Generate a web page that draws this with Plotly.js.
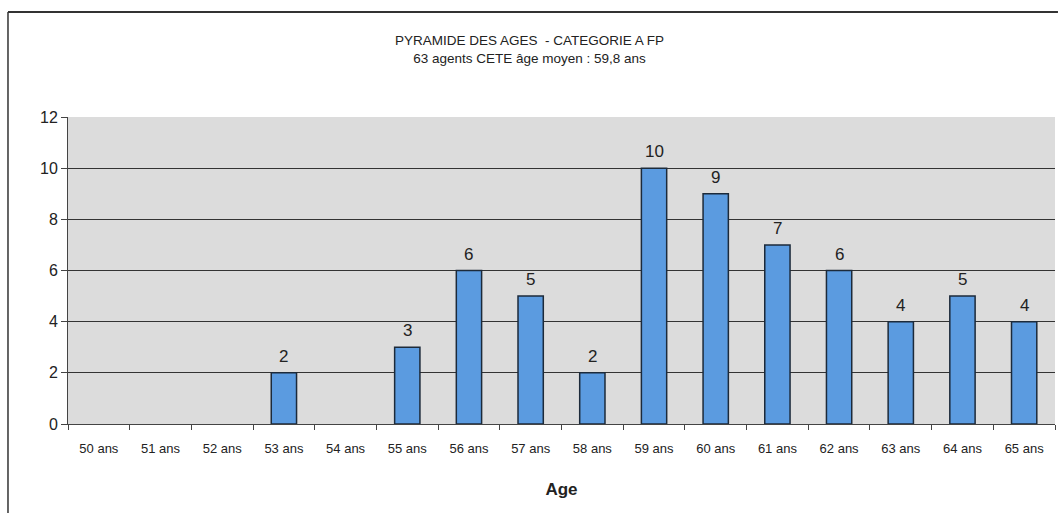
<!DOCTYPE html>
<html><head><meta charset="utf-8">
<script src="https://cdn.plot.ly/plotly-3.0.1.min.js"></script>
<style>html,body{margin:0;padding:0;background:#fff;}#chart{width:1059px;height:513px;}</style>
</head><body><div id="chart"></div>
<script>
const categories = ["50 ans","51 ans","52 ans","53 ans","54 ans","55 ans","56 ans","57 ans","58 ans","59 ans","60 ans","61 ans","62 ans","63 ans","64 ans","65 ans"];
const agents = [0,0,0,2,0,3,6,5,2,10,9,7,6,4,5,4];
const yTicks = [0,2,4,6,8,10,12];
const titleLine1 = "PYRAMIDE DES AGES  - CATEGORIE A FP";
const titleLine2 = "63 agents CETE âge moyen : 59,8 ans";

const trace = {
  type: 'bar', x: categories, y: agents.map(v => v > 0 ? v : null),
  marker: {color: '#5b9be0', line: {color: '#1c2a3a', width: 1.5}},
  width: 0.41, hoverinfo: 'x+y'
};
const labels = categories.map((c, i) => agents[i] > 0 ? {
  x: c, y: agents[i], xref: 'x', yref: 'y', text: String(agents[i]), showarrow: false,
  yanchor: 'bottom', yshift: 5,
  font: {family: 'Liberation Sans, Arial, sans-serif', size: 17, color: '#222'}
} : null).filter(a => a);

const layout = {
  width: 1059, height: 513,
  margin: {l: 68, r: 4, t: 117, b: 89},
  paper_bgcolor: '#ffffff', plot_bgcolor: '#dcdcdc',
  showlegend: false,
  title: {text: titleLine1 + '<br>' + titleLine2, x: 0.5, xanchor: 'center', y: 0.912, yanchor: 'top',
          font: {family: 'Liberation Sans, Arial, sans-serif', size: 13.5, color: '#222'}},
  font: {family: 'Liberation Sans, Arial, sans-serif', color: '#222'},
  annotations: labels,
  xaxis: {type: 'category', tickson: 'boundaries', ticks: 'outside', ticklen: 5, tickcolor: '#444',
          ticklabelstandoff: 12,
          showline: true, linecolor: '#444', linewidth: 1, showgrid: false,
          tickfont: {family: 'Liberation Sans, Arial, sans-serif', size: 13, color: '#222'},
          title: {text: '<b>Age</b>', font: {family: 'Liberation Sans, Arial, sans-serif', size: 17, color: '#222'}, standoff: 28}},
  yaxis: {range: [0, 12], tickvals: yTicks, ticks: 'outside', ticklen: 6, tickcolor: '#444',
          showline: true, linecolor: '#444', linewidth: 1, showgrid: true, gridcolor: '#333', gridwidth: 1,
          zeroline: false, tickfont: {family: 'Liberation Sans, Arial, sans-serif', size: 16, color: '#222'}},
  shapes: [
    {type: 'line', xref: 'paper', yref: 'paper', x0: -0.0608, x1: 1.003, y0: 1.342, y1: 1.342, line: {color: '#333', width: 2}},
    {type: 'line', xref: 'paper', yref: 'paper', x0: -0.0608, x1: -0.0608, y0: 1.342, y1: -0.29, line: {color: '#333', width: 1.5}}
  ]
};
Plotly.newPlot('chart', [trace], layout, {displayModeBar: false, staticPlot: true});
</script></body></html>
